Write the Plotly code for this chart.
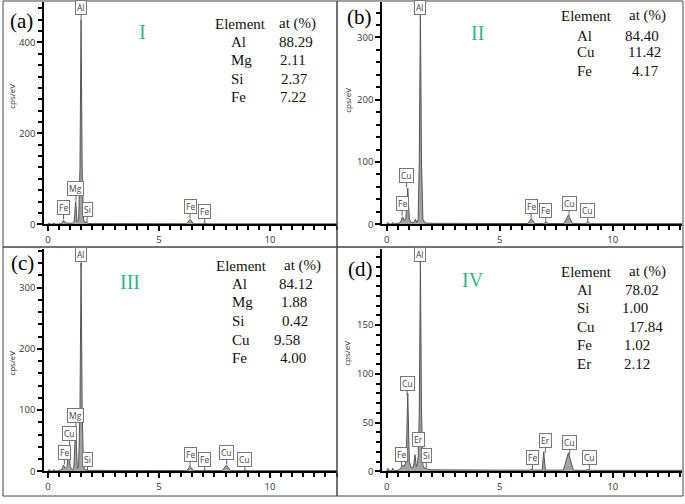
import plotly.graph_objects as go

W, H = 685, 504

# ---------------- data ----------------
E_a = [-0.1, 0.0, 0.05, 0.1, 0.22, 0.27, 0.32, 0.47, 0.52, 0.57, 0.62, 0.70, 0.78, 0.88, 0.98, 1.10, 1.18, 1.25, 1.31, 1.38,
       1.44, 1.49, 1.54, 1.60, 1.67, 1.74, 1.81, 2.0, 3.0, 5.0, 6.25, 6.40, 6.55, 6.95, 7.06, 7.17, 9.0, 13.1]
C_a = [0, 0, 3, 0.5, 0.5, 3, 0.5, 0.5, 2.5, 1, 2, 9, 3, 3, 2, 2, 6, 50, 6, 10,
       120, 450, 120, 10, 3, 6, 2, 1.5, 1.5, 1.2, 1.2, 11, 1.2, 1.2, 3, 1, 1, 1]

E_b = [-0.1, 0.0, 0.05, 0.1, 0.22, 0.27, 0.32, 0.47, 0.55, 0.62, 0.70, 0.78, 0.85, 0.93, 1.0, 1.08, 1.20, 1.27, 1.33, 1.39,
       1.44, 1.49, 1.54, 1.60, 1.70, 2.0, 5.0, 6.25, 6.40, 6.55, 6.95, 7.06, 7.17, 7.85, 8.04, 8.22, 8.78, 8.90, 9.02, 13.1]
C_b = [0, 0, 3, 0.5, 0.5, 3, 0.5, 1, 2, 4, 12, 6, 10, 58, 8, 3, 3, 8, 3, 8,
       100, 340, 100, 8, 2, 1.5, 1.2, 1.2, 9, 1.2, 1.2, 3, 1.2, 1.2, 15, 1.2, 1, 3, 1, 1]

E_c = [-0.1, 0.0, 0.05, 0.1, 0.22, 0.27, 0.32, 0.50, 0.62, 0.70, 0.78, 0.86, 0.93, 1.0, 1.08, 1.16, 1.25, 1.32, 1.38, 1.44,
       1.49, 1.54, 1.60, 1.67, 1.74, 1.81, 2.0, 5.0, 6.25, 6.40, 6.55, 6.95, 7.06, 7.17, 7.85, 8.04, 8.22, 8.78, 8.90, 9.02, 13.1]
C_c = [0, 0, 3, 0.5, 0.5, 3, 0.5, 1, 3, 10, 5, 8, 40, 8, 3, 5, 70, 5, 8, 100,
       340, 100, 8, 2, 3, 1.5, 1.5, 1.2, 1.2, 8, 1.2, 1.2, 2, 1.2, 1.2, 10, 1.2, 1, 2, 1, 1]

E_d = [-0.1, 0.0, 0.05, 0.1, 0.22, 0.27, 0.32, 0.50, 0.62, 0.70, 0.78, 0.86, 0.93, 1.0, 1.08, 1.18, 1.25, 1.31, 1.36, 1.40,
       1.44, 1.49, 1.54, 1.60, 1.67, 1.74, 1.81, 2.0, 5.0, 6.30, 6.40, 6.50, 6.88, 6.95, 7.02, 7.82, 8.04, 8.26, 8.80, 8.92,
       9.04, 13.1]
C_d = [0, 0, 3, 0.5, 0.5, 3, 0.5, 1, 3, 6, 5, 10, 80, 10, 4, 4, 17, 5, 8, 18,
       60, 215, 60, 6, 3, 4, 2, 1.5, 1.2, 1.2, 2, 1.2, 1.2, 20, 1.2, 1.2, 19, 1.2, 1, 2,
       1, 1]

# peak labels: element, energy (keV), height the pointer touches (cps/eV)
lab_a = ["Al", "Mg", "Fe", "Si", "Fe", "Fe"]
lab_a_E = [1.49, 1.26, 0.70, 1.76, 6.40, 7.06]
lab_a_v = [450, 52, 11, 6, 13, 2]

lab_b = ["Al", "Cu", "Fe", "Fe", "Fe", "Cu", "Cu"]
lab_b_E = [1.49, 0.88, 0.68, 6.39, 7.04, 8.07, 8.90]
lab_b_v = [329, 59, 14, 9.5, 3, 14, 3]

lab_c = ["Al", "Mg", "Cu", "Fe", "Si", "Fe", "Fe", "Cu", "Cu"]
lab_c_E = [1.49, 1.26, 0.97, 0.74, 1.78, 6.40, 7.06, 8.05, 8.87]
lab_c_v = [334, 71, 42, 11, 0.5, 8, 0.5, 11, 0.5]

lab_d = ["Al", "Cu", "Fe", "Er", "Si", "Fe", "Er", "Cu", "Cu"]
lab_d_E = [1.49, 0.90, 0.65, 1.40, 1.75, 6.45, 7.02, 8.10, 8.97]
lab_d_v = [210, 78, 5, 20, 4, 2, 19, 17, 2]

# composition tables
tab_a_el = ["Al", "Mg", "Si", "Fe"]
tab_a_at = ["88.29", "2.11", "2.37", "7.22"]
tab_b_el = ["Al", "Cu", "Fe"]
tab_b_at = ["84.40", "11.42", "4.17"]
tab_c_el = ["Al", "Mg", "Si", "Cu", "Fe"]
tab_c_at = ["84.12", "1.88", "0.42", "9.58", "4.00"]
tab_d_el = ["Al", "Si", "Cu", "Fe", "Er"]
tab_d_at = ["78.02", "1.00", "17.84", "1.02", "2.12"]

panel_letters = ["(a)", "(b)", "(c)", "(d)"]
roman = ["I", "II", "III", "IV"]
y_ticks = [[0, 200, 400], [0, 100, 200, 300], [0, 100, 200, 300], [0, 50, 100, 150]]
x_ticks = [0, 5, 10]


def px(x):
    return x / W


def py(y):
    return 1 - y / H


SERIF = "Liberation Serif"
SANS = "Open Sans"
TEAL = "#2bb88a"

panels = [
    dict(E=E_a, C=C_a, lab=lab_a, labE=lab_a_E, labv=lab_a_v, tel=tab_a_el, tat=tab_a_at,
         xd=(44, 337), yd=(227, 2), xr=[-0.18, 13.02], yr=[0, 489], ymin=25,
         letter=(21, 21), rom=(142, 32), ytitle=(12, 98),
         head=(213, 277, 24), el_x=229, rows_y=[43, 61, 80, 98], val_x=[277, 278, 279, 278]),
    dict(E=E_b, C=C_b, lab=lab_b, labE=lab_b_E, labv=lab_b_v, tel=tab_b_el, tat=tab_b_at,
         xd=(382, 682), yd=(227, 2), xr=[-0.21, 13.07], yr=[0, 357], ymin=20,
         letter=(359, 17), rom=(477, 33), ytitle=(348, 101),
         head=(559, 627, 16), el_x=575, rows_y=[36, 53, 72], val_x=[623, 626, 630]),
    dict(E=E_c, C=C_c, lab=lab_c, labE=lab_c_E, labv=lab_c_v, tel=tab_c_el, tat=tab_c_at,
         xd=(44, 337), yd=(477, 252), xr=[-0.18, 13.02], yr=[0, 363], ymin=20,
         letter=(22, 266), rom=(130, 285), ytitle=(12, 368),
         head=(214, 282, 269), el_x=230, rows_y=[287, 306, 325, 344, 362], val_x=[277, 279, 280, 272, 278]),
    dict(E=E_d, C=C_d, lab=lab_d, labE=lab_d_E, labv=lab_d_v, tel=tab_d_el, tat=tab_d_at,
         xd=(382, 682), yd=(477, 252), xr=[-0.21, 13.07], yr=[0, 228], ymin=10,
         letter=(361, 272), rom=(473, 283), ytitle=(347, 358),
         head=(559, 627, 275), el_x=575, rows_y=[293, 312, 331, 349, 368], val_x=[623, 620, 627, 622, 622]),
]

fig = go.Figure()
annotations = []
layout_axes = {}

for i, p in enumerate(panels):
    n = "" if i == 0 else str(i + 1)
    xref, yref = "x" + n, "y" + n
    fig.add_trace(go.Scatter(
        x=p["E"], y=p["C"], xaxis=xref, yaxis=yref, mode="lines",
        line=dict(color="#555555", width=1), fill="tozeroy", fillcolor="#a3a3a3",
        hoverinfo="skip", showlegend=False))

    layout_axes["xaxis" + n] = dict(
        domain=[px(p["xd"][0]), px(p["xd"][1])], range=p["xr"], anchor=yref,
        showline=True, linecolor="#000", linewidth=2, showgrid=False, zeroline=False,
        ticks="outside", ticklen=5, tickwidth=1.5, tickcolor="#000",
        tickvals=x_ticks, tickfont=dict(family=SANS, size=9.5, color="#333"),
        minor=dict(dtick=0.5, tick0=0, ticks="outside", ticklen=4, tickwidth=1.5, tickcolor="#000"),
        fixedrange=True)
    layout_axes["yaxis" + n] = dict(
        domain=[py(p["yd"][0]), py(p["yd"][1])], range=p["yr"], anchor=xref,
        showline=True, linecolor="#000", linewidth=1.5, showgrid=False, zeroline=False,
        ticks="outside", ticklen=5, tickwidth=1.5, tickcolor="#000",
        tickvals=y_ticks[i], tickfont=dict(family=SANS, size=9.5, color="#333"),
        minor=dict(dtick=p["ymin"], tick0=0, ticks="outside", ticklen=4, tickwidth=1.5, tickcolor="#000"),
        fixedrange=True)

    # peak labels
    for t, e, v in zip(p["lab"], p["labE"], p["labv"]):
        annotations.append(dict(
            x=e, y=v, xref=xref, yref=yref, text=t, showarrow=True, arrowhead=0,
            arrowwidth=1, arrowcolor="#666", ax=0, ay=-12, standoff=0,
            font=dict(family=SANS, size=8.5, color="#444"),
            bgcolor="white", bordercolor="#777", borderwidth=1, borderpad=1))

    # y title
    annotations.append(dict(
        x=px(p["ytitle"][0]), y=py(p["ytitle"][1]), xref="paper", yref="paper",
        text="cps/eV", textangle=-90, showarrow=False,
        font=dict(family=SANS, size=8, color="#222"), xanchor="center", yanchor="middle"))

    # panel letter
    annotations.append(dict(
        x=px(p["letter"][0]), y=py(p["letter"][1]), xref="paper", yref="paper",
        text=panel_letters[i], showarrow=False, bgcolor="white", borderpad=2,
        font=dict(family=SERIF, size=21, color="#000"), xanchor="center", yanchor="middle"))

    # roman numeral
    annotations.append(dict(
        x=px(p["rom"][0]), y=py(p["rom"][1]), xref="paper", yref="paper",
        text=roman[i], showarrow=False,
        font=dict(family=SERIF, size=20, color=TEAL), xanchor="center", yanchor="middle"))

    # table
    hx1, hx2, hy = p["head"]
    for txt, xx in (("Element", hx1), ("at (%)", hx2)):
        annotations.append(dict(
            x=px(xx), y=py(hy), xref="paper", yref="paper", text=txt, showarrow=False,
            font=dict(family=SERIF, size=15, color="#111"), xanchor="left", yanchor="middle"))
    for el, at, ry, vx in zip(p["tel"], p["tat"], p["rows_y"], p["val_x"]):
        annotations.append(dict(
            x=px(p["el_x"]), y=py(ry), xref="paper", yref="paper", text=el, showarrow=False,
            font=dict(family=SERIF, size=15, color="#111"), xanchor="left", yanchor="middle"))
        annotations.append(dict(
            x=px(vx), y=py(ry), xref="paper", yref="paper", text=at, showarrow=False,
            font=dict(family=SERIF, size=15, color="#111"), xanchor="left", yanchor="middle"))

# panel frames
frames = [(3, 1, 337, 250), (337, 1, 683, 250), (3, 250, 337, 502), (337, 250, 683, 502)]
shapes = [dict(type="rect", xref="paper", yref="paper", x0=px(a), x1=px(c), y0=py(d), y1=py(b),
               line=dict(color="#444", width=1), layer="above") for a, b, c, d in frames]

fig.update_layout(
    width=W, height=H, margin=dict(l=0, r=0, t=0, b=0),
    paper_bgcolor="white", plot_bgcolor="white",
    annotations=annotations, shapes=shapes, showlegend=False, **layout_axes)

page_fix = (
    "var d=document.documentElement, b=document.body;"
    "d.style.margin='0'; d.style.padding='0'; d.style.height='504px'; d.style.overflow='hidden';"
    "b.style.margin='0'; b.style.padding='0'; b.style.height='504px'; b.style.overflow='hidden';"
    "if (b.firstElementChild) { b.firstElementChild.style.height='504px'; b.firstElementChild.style.overflow='hidden'; }"
)
fig.write_html("out.html", config={"displayModeBar": False}, post_script=page_fix)
